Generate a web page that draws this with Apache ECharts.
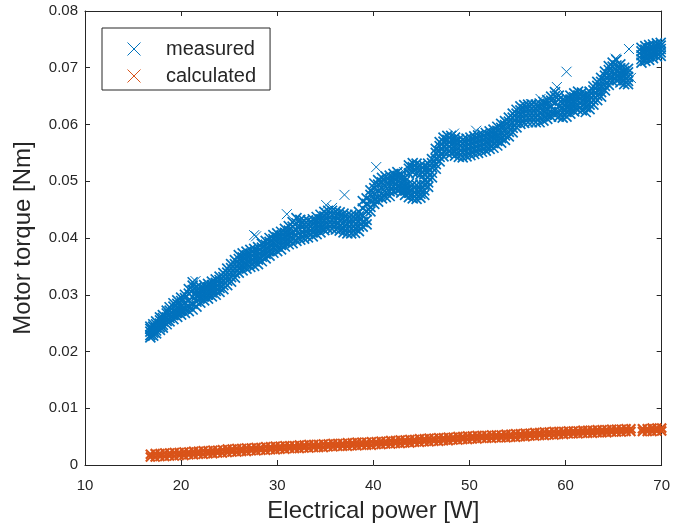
<!DOCTYPE html>
<html>
<head>
<meta charset="utf-8">
<script src="https://cdn.jsdelivr.net/npm/echarts@6/dist/echarts.min.js"></script>
<style>html,body{margin:0;padding:0;background:#fff;}#c{width:673px;height:531px;}</style>
</head>
<body>
<div id="c"></div>
<script>
// ---- data ----
const xTicks = [10, 20, 30, 40, 50, 60, 70];
const yTicks = [0, 0.01, 0.02, 0.03, 0.04, 0.05, 0.06, 0.07, 0.08];
const seriesNames = ['measured', 'calculated'];

// measured: electrical power [W] and the torque values seen at each power
const measuredPower = [
16.8,17.1,17.4,17.8,18.1,18.5,18.8,19.2,19.6,20.0,20.4,20.8,21.2,21.6,22.0,22.4,22.8,23.2,23.6,24.0,
24.4,24.8,25.2,25.6,26.0,26.4,26.8,27.2,27.6,28.0,28.4,28.8,29.2,29.6,30.0,30.4,30.8,31.2,31.6,32.0,
32.4,32.8,33.2,33.7,34.1,34.5,34.9,35.3,35.7,36.1,36.5,36.9,37.3,37.7,38.1,38.5,38.9,39.3,39.7,40.1,
40.5,40.9,41.3,41.7,42.1,42.5,42.9,43.3,43.7,44.1,44.5,44.9,45.3,45.7,46.1,46.5,46.9,47.3,47.7,48.1,
48.5,48.9,49.3,49.7,50.1,50.5,50.9,51.3,51.7,52.1,52.5,52.9,53.3,53.7,54.1,54.5,54.9,55.3,55.7,56.1,
56.5,56.9,57.3,57.7,58.1,58.5,58.9,59.3,59.7,60.1,60.5,60.9,61.3,61.7,62.1,62.5,62.9,63.3,63.7,64.1,
64.5,64.9,65.3,65.7,66.1,66.5,67.9,68.3,68.7,69.1,69.5,69.9
];
const measuredTorque = [
[.0225,.0229,.0235,.0240,.0244],[.0228,.0233,.0238,.0244,.0248],[.0232,.0237,.0242,.0248,.0253],[.0238,.0243,.0249,.0255,.0260],
[.0242,.0247,.0253,.0259,.0264],[.0248,.0254,.0260,.0267,.0272],[.0253,.0259,.0266,.0272,.0278],[.0257,.0264,.0271,.0279,.0285],
[.0261,.0268,.0276,.0284,.0290],[.0265,.0272,.0280,.0289,.0295],[.0268,.0276,.0285,.0294,.0300],[.0271,.0280,.0290,.0302,.0310],
[.0274,.0284,.0296,.0308,.0316,.0322],[.0279,.0288,.0298,.0306,.0313],[.0286,.0294,.0301,.0308,.0314],[.0290,.0297,.0304,.0311,.0317],
[.0293,.0300,.0307,.0313,.0319],[.0297,.0304,.0310,.0317,.0323],[.0300,.0307,.0314,.0321,.0327],[.0305,.0312,.0319,.0326,.0332],
[.0310,.0317,.0324,.0331,.0338],[.0317,.0325,.0332,.0339,.0346],[.0323,.0331,.0339,.0347,.0354],[.0330,.0338,.0346,.0354,.0361],
[.0339,.0347,.0355,.0363,.0370],[.0343,.0351,.0359,.0366,.0373],[.0346,.0354,.0362,.0369,.0376],[.0349,.0357,.0364,.0372,.0379],
[.0351,.0359,.0366,.0374,.0381],[.0354,.0362,.0369,.0377,.0384],[.0359,.0367,.0375,.0383,.0390],[.0364,.0372,.0380,.0388,.0395],
[.0369,.0377,.0385,.0393,.0400],[.0374,.0382,.0390,.0398,.0405],[.0377,.0385,.0393,.0401,.0408],[.0380,.0388,.0396,.0404,.0411],
[.0385,.0393,.0401,.0409,.0416],[.0389,.0397,.0405,.0413,.0421],[.0391,.0400,.0410,.0420,.0428],[.0395,.0404,.0414,.0426,.0435],
[.0397,.0405,.0415,.0425,.0432],[.0399,.0407,.0415,.0423,.0430],[.0401,.0409,.0416,.0424,.0431],[.0403,.0410,.0418,.0426,.0433],
[.0407,.0415,.0422,.0430,.0437],[.0410,.0418,.0425,.0433,.0441],[.0414,.0422,.0430,.0438,.0446],[.0416,.0424,.0432,.0440,.0448],
[.0416,.0424,.0432,.0441,.0448],[.0415,.0423,.0431,.0440,.0447],[.0413,.0421,.0430,.0438,.0445],[.0410,.0418,.0427,.0436,.0443],
[.0408,.0416,.0425,.0434,.0441],[.0408,.0416,.0424,.0433,.0440],[.0409,.0417,.0425,.0434,.0441],[.0412,.0420,.0429,.0438,.0446],
[.0420,.0428,.0440,.0452,.0465],[.0424,.0432,.0447,.0460,.0470],[.0447,.0455,.0466,.0476,.0484],[.0460,.0468,.0478,.0488,.0496],
[.0464,.0472,.0483,.0494,.0502],[.0470,.0478,.0488,.0498,.0506],[.0472,.0480,.0490,.0500,.0508],[.0474,.0482,.0492,.0502,.0510],
[.0482,.0490,.0498,.0506,.0513],[.0484,.0492,.0500,.0509,.0516],[.0480,.0488,.0496,.0505,.0512],[.0476,.0484,.0492,.0500,.0507],
[.0472,.0480,.0488,.0496,.0514,.0522,.0528],[.0470,.0477,.0485,.0494,.0516,.0525,.0532],[.0469,.0476,.0484,.0493,.0514,.0523,.0531],
[.0471,.0478,.0486,.0494,.0512,.0520,.0528],[.0476,.0484,.0493,.0502,.0512,.0520,.0527],[.0490,.0498,.0507,.0516,.0524,.0531],
[.0507,.0515,.0524,.0532,.0539],[.0522,.0530,.0540,.0550,.0557],[.0535,.0543,.0553,.0562,.0569],[.0544,.0552,.0561,.0570,.0577],
[.0549,.0557,.0565,.0573,.0580],[.0549,.0557,.0565,.0573,.0580],[.0545,.0553,.0562,.0570,.0577],[.0543,.0551,.0559,.0567,.0574],
[.0542,.0550,.0558,.0566,.0573],[.0544,.0552,.0560,.0568,.0575],[.0546,.0554,.0562,.0570,.0577],[.0548,.0556,.0564,.0572,.0579],
[.0550,.0558,.0566,.0574,.0581],[.0552,.0560,.0568,.0576,.0583],[.0554,.0562,.0570,.0578,.0585],[.0557,.0565,.0573,.0581,.0588],
[.0559,.0567,.0576,.0584,.0591],[.0563,.0571,.0580,.0589,.0596],[.0568,.0576,.0585,.0594,.0601],[.0573,.0581,.0590,.0599,.0606],
[.0579,.0587,.0596,.0605,.0612],[.0586,.0594,.0603,.0612,.0619],[.0595,.0603,.0611,.0619,.0626],[.0601,.0609,.0617,.0625,.0632],
[.0603,.0611,.0619,.0627,.0634],[.0604,.0612,.0620,.0628,.0635],[.0604,.0612,.0620,.0628,.0635],[.0604,.0612,.0620,.0628,.0635],
[.0604,.0612,.0621,.0630,.0637],[.0607,.0615,.0624,.0633,.0640],[.0610,.0618,.0627,.0636,.0643],[.0614,.0622,.0632,.0642,.0649],
[.0617,.0625,.0638,.0650,.0657],[.0614,.0622,.0632,.0644,.0651],[.0612,.0620,.0629,.0637,.0644],[.0614,.0622,.0631,.0639,.0646],
[.0619,.0627,.0636,.0644,.0651],[.0623,.0631,.0640,.0648,.0655],[.0626,.0634,.0643,.0651,.0658],[.0625,.0633,.0641,.0649,.0656],
[.0622,.0630,.0638,.0646,.0653],[.0627,.0635,.0643,.0651,.0658],[.0635,.0643,.0652,.0660,.0667],[.0643,.0651,.0660,.0668,.0675],
[.0649,.0657,.0666,.0675,.0682],[.0660,.0668,.0677,.0686,.0693],[.0670,.0678,.0687,.0696,.0703],[.0676,.0684,.0693,.0702,.0709],
[.0678,.0686,.0695,.0704,.0714],[.0674,.0682,.0690,.0699,.0706],[.0671,.0678,.0686,.0694,.0700],[.0671,.0677,.0684,.0692,.0698],
[.0709,.0715,.0722,.0729,.0735],[.0712,.0718,.0725,.0732,.0738],[.0714,.0720,.0727,.0734,.0740],[.0717,.0723,.0729,.0736,.0741],
[.0720,.0726,.0732,.0738,.0743],[.0721,.0727,.0733,.0739,.0744]
];
// isolated measured points above the band
const measuredExtraPower  = [21.5, 27.6, 27.8, 31.0, 35.1, 35.7, 37.0, 40.3, 43.2, 48.4, 50.7, 56.4, 57.4, 59.1, 60.1, 60.3, 65.2, 66.6, 66.8];
const measuredExtraTorque = [.0324,.0405,.0403,.0442,.0458,.0453,.0476,.0525,.0516,.0584,.0589,.0636,.0645,.0666,.0693,.0626,.0716,.0733,.0682];

// calculated: power [W] and the [lower, upper] torque seen at each power
const calcPower = [
16.8,17.3,17.8,18.3,18.8,19.3,19.8,20.3,20.8,21.3,21.8,22.3,22.8,23.3,23.8,24.3,24.8,25.3,25.8,26.3,
26.8,27.3,27.8,28.3,28.8,29.3,29.8,30.3,30.8,31.3,31.8,32.3,32.8,33.3,33.8,34.3,34.8,35.3,35.8,36.3,
36.8,37.3,37.8,38.3,38.8,39.3,39.8,40.3,40.8,41.3,41.8,42.3,42.8,43.3,43.8,44.3,44.8,45.3,45.8,46.3,
46.8,47.3,47.8,48.3,48.8,49.3,49.8,50.3,50.8,51.3,51.8,52.3,52.8,53.3,53.8,54.3,54.8,55.3,55.8,56.3,
56.8,57.3,57.8,58.3,58.8,59.3,59.8,60.3,60.8,61.3,61.8,62.3,62.8,63.3,63.8,64.3,64.8,65.3,65.8,66.3,
66.8,68.0,68.5,69.0,69.5,70.0
];
const calcTorque = [
[.0014,.0019],[.0014,.0020],[.0015,.0020],[.0015,.0021],[.0016,.0021],[.0016,.0022],[.0017,.0022],[.0017,.0023],[.0018,.0023],[.0018,.0024],
[.0019,.0024],[.0019,.0025],[.0020,.0025],[.0020,.0026],[.0021,.0026],[.0021,.0027],[.0022,.0028],[.0023,.0028],[.0023,.0029],[.0024,.0029],
[.0024,.0030],[.0025,.0030],[.0025,.0031],[.0026,.0031],[.0026,.0032],[.0027,.0032],[.0027,.0033],[.0028,.0033],[.0028,.0034],[.0029,.0034],
[.0029,.0034],[.0029,.0035],[.0030,.0035],[.0030,.0036],[.0031,.0036],[.0031,.0036],[.0031,.0037],[.0032,.0037],[.0032,.0038],[.0033,.0038],
[.0033,.0038],[.0033,.0039],[.0034,.0039],[.0034,.0040],[.0035,.0040],[.0035,.0040],[.0035,.0041],[.0036,.0041],[.0036,.0042],[.0037,.0042],
[.0037,.0043],[.0038,.0043],[.0038,.0044],[.0039,.0044],[.0039,.0045],[.0040,.0045],[.0040,.0046],[.0041,.0046],[.0041,.0047],[.0042,.0047],
[.0042,.0048],[.0043,.0048],[.0043,.0049],[.0044,.0049],[.0044,.0050],[.0045,.0050],[.0045,.0051],[.0046,.0051],[.0046,.0052],[.0047,.0052],
[.0047,.0052],[.0047,.0053],[.0048,.0053],[.0048,.0053],[.0048,.0054],[.0049,.0054],[.0049,.0055],[.0050,.0055],[.0050,.0056],[.0051,.0056],
[.0051,.0057],[.0052,.0057],[.0052,.0058],[.0053,.0058],[.0053,.0059],[.0054,.0059],[.0054,.0059],[.0055,.0060],[.0055,.0060],[.0055,.0060],
[.0056,.0061],[.0056,.0061],[.0056,.0061],[.0057,.0062],[.0057,.0062],[.0057,.0062],[.0058,.0063],[.0058,.0063],[.0058,.0063],[.0059,.0064],
[.0059,.0064],[.0059,.0064],[.0059,.0064],[.0059,.0065],[.0060,.0065],[.0060,.0065]
];

// ---- build point lists ----
function flatten(px, py) {
  const out = [];
  px.forEach((x, i) => py[i].forEach(y => out.push([x, y])));
  return out;
}
const measuredData = flatten(measuredPower, measuredTorque);
const measuredExtraData = measuredExtraPower.map((x, i) => [x, measuredExtraTorque[i]]);
const calcData = flatten(calcPower, calcTorque);

const COLORS = ['#0072BD', '#D95319'];
const CROSS = 'path://M0,0L10,10M10,0L0,10';
const TXT = '#262626';
const FONT = '"Liberation Sans", Arial, sans-serif';

const chart = echarts.init(document.getElementById('c'), null, {renderer: 'canvas'});

function xAxisCfg(pos, showLabels, name) {
  return {
    type: 'value', position: pos, min: xTicks[0], max: xTicks[xTicks.length - 1], interval: 10,
    splitLine: {show: false},
    axisLine: {show: true, onZero: false, lineStyle: {color: TXT, width: 1}},
    axisTick: {show: true, inside: true, length: 5, lineStyle: {color: TXT}},
    axisLabel: {show: showLabels, color: TXT, fontSize: 15, fontFamily: FONT, margin: 13},
    name: name || '', nameLocation: 'middle', nameGap: 34,
    nameTextStyle: {color: TXT, fontSize: 24, fontFamily: FONT}
  };
}
function yAxisCfg(pos, showLabels, name) {
  return {
    type: 'value', position: pos, min: yTicks[0], max: yTicks[yTicks.length - 1], interval: 0.01,
    splitLine: {show: false},
    axisLine: {show: true, onZero: false, lineStyle: {color: TXT, width: 1}},
    axisTick: {show: true, inside: true, length: 5, lineStyle: {color: TXT}},
    axisLabel: {show: showLabels, color: TXT, fontSize: 15, fontFamily: FONT, margin: 7},
    name: name || '', nameLocation: 'middle', nameGap: 50, nameRotate: 90,
    nameTextStyle: {color: TXT, fontSize: 24, fontFamily: FONT}
  };
}

const bandStyle = (c, w) => ({color: 'rgba(0,0,0,0)', borderColor: c, borderWidth: w, opacity: 1});

chart.setOption({
  animation: false,
  backgroundColor: '#fff',
  grid: {left: 85, right: 10, top: 11, bottom: 66, containLabel: false},
  xAxis: [xAxisCfg('bottom', true, 'Electrical power [W]'), xAxisCfg('top', false)],
  yAxis: [yAxisCfg('left', true, 'Motor torque [Nm]'), yAxisCfg('right', false)],
  legend: {
    left: 102, top: 28, orient: 'vertical',
    backgroundColor: '#fff', borderColor: TXT, borderWidth: 1, borderRadius: 0,
    padding: [10, 14, 3, 25], itemGap: 5, itemWidth: 54, itemHeight: 13,
    textStyle: {color: TXT, fontSize: 20, fontFamily: FONT, lineHeight: 22},
    data: seriesNames.map((n, i) => ({
      name: n, icon: CROSS,
      itemStyle: {color: 'rgba(0,0,0,0)', borderColor: COLORS[i], borderWidth: 1}
    }))
  },
  series: [
    {name: seriesNames[0], type: 'scatter', data: measuredData, symbol: CROSS, symbolSize: 10,
     itemStyle: bandStyle(COLORS[0], 1.7), emphasis: {disabled: true}, silent: true},
    {name: seriesNames[0], type: 'scatter', data: measuredExtraData, symbol: CROSS, symbolSize: 10,
     itemStyle: bandStyle(COLORS[0], 1), emphasis: {disabled: true}, silent: true},
    {name: seriesNames[1], type: 'scatter', data: calcData, symbol: CROSS, symbolSize: 9,
     itemStyle: bandStyle(COLORS[1], 2.2), emphasis: {disabled: true}, silent: true}
  ]
});
</script>
</body>
</html>
